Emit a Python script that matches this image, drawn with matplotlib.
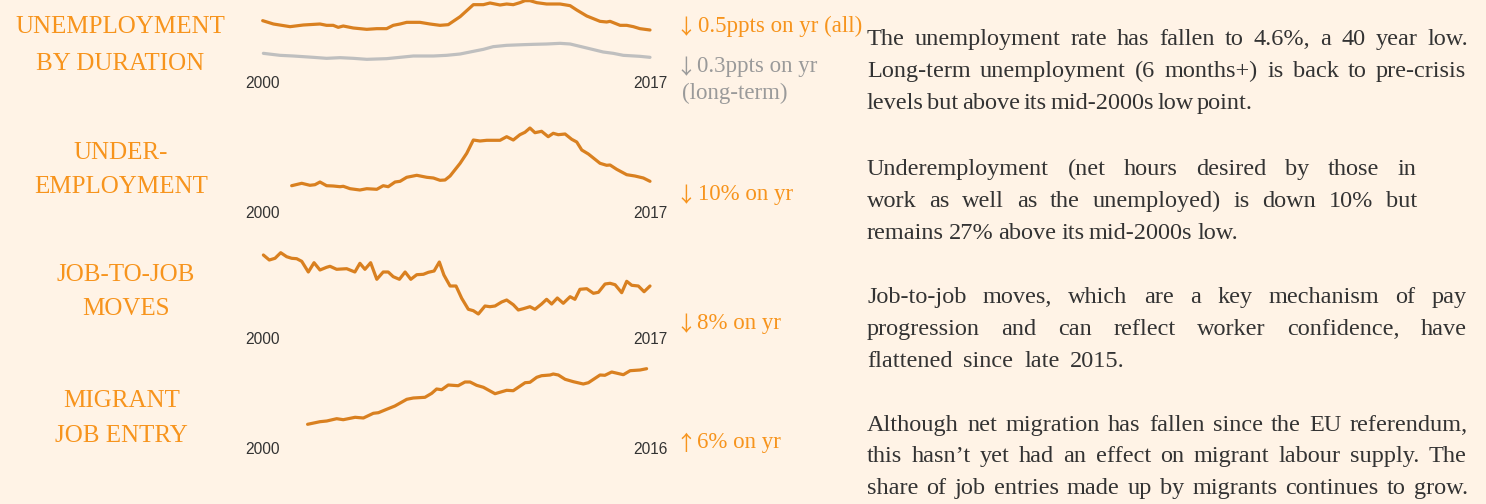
import matplotlib
matplotlib.use("Agg")
import matplotlib.pyplot as plt

W, H = 1486, 504
BG = "#fff3e6"
ORANGE_TXT = "#f7941d"
ORANGE_LINE = "#d98020"
GREY_LINE = "#bfbfbf"
GREY_TXT = "#9a9a9a"
INK = "#333333"
SERIF = ["Liberation Serif", "DejaVu Serif"]
ARROW_FONT = ["Noto Sans CJK SC", "DejaVu Sans"]

# --- data (no y scale shown, units are rough) ---
unemp_years = [2000.03, 2000.50, 2001.23, 2001.81, 2002.54, 2002.83, 2003.12, 2003.34,
               2003.56, 2004.00, 2004.59, 2005.03, 2005.46, 2005.75, 2006.05, 2006.34,
               2006.92, 2007.36, 2007.80, 2008.16, 2008.68, 2009.26, 2009.70, 2009.99,
               2010.43, 2010.72, 2011.01, 2011.30, 2011.52, 2011.74, 2012.04, 2012.47,
               2013.06, 2013.50, 2013.79, 2014.23, 2014.81, 2015.10, 2015.25, 2015.69,
               2015.98, 2016.27, 2016.56, 2017.00]
unemp_all = [5.42, 5.02, 4.70, 4.90, 5.02, 4.86, 4.86, 4.62, 4.78, 4.54, 4.38, 4.46,
             4.46, 4.86, 5.02, 5.22, 5.22, 5.02, 4.86, 4.94, 5.90, 7.34, 7.34, 7.54,
             7.30, 7.42, 7.34, 7.58, 7.82, 7.82, 7.58, 7.42, 7.42, 7.22, 6.70, 5.98,
             5.34, 5.26, 5.34, 4.86, 4.86, 4.70, 4.46, 4.30]

long_years = [2000.06, 2000.79, 2001.37, 2002.25, 2002.83, 2003.42, 2004.00, 2004.59,
              2005.46, 2005.75, 2006.63, 2007.51, 2008.09, 2008.68, 2009.26, 2009.70,
              2010.13, 2010.72, 2011.45, 2011.89, 2012.47, 2013.06, 2013.50, 2014.23,
              2014.95, 2015.39, 2015.83, 2016.56, 2017.00]
unemp_long = [1.50, 1.26, 1.18, 1.02, 0.90, 0.98, 0.90, 0.78, 0.86, 0.94, 1.18, 1.18,
              1.26, 1.42, 1.74, 1.98, 2.30, 2.46, 2.54, 2.58, 2.62, 2.70, 2.62, 2.14,
              1.66, 1.50, 1.26, 1.14, 1.02]

under_years = [2001.30, 2001.74, 2002.10, 2002.32, 2002.54, 2002.83, 2003.12, 2003.42,
               2003.56, 2003.86, 2004.29, 2004.59, 2005.03, 2005.31, 2005.53, 2005.83,
               2006.05, 2006.34, 2006.78, 2007.22, 2007.51, 2007.80, 2008.02, 2008.24,
               2008.68, 2008.97, 2009.26, 2009.55, 2009.85, 2010.43, 2010.72, 2011.01,
               2011.30, 2011.52, 2011.74, 2011.96, 2012.25, 2012.54, 2012.76, 2012.98,
               2013.28, 2013.57, 2013.79, 2014.01, 2014.30, 2014.81, 2015.10, 2015.25,
               2015.54, 2015.98, 2016.34, 2016.71, 2017.00]
under_idx = [14.3, 16.7, 14.7, 15.3, 18.0, 14.3, 14.0, 13.3, 13.7, 11.3, 10.0, 11.3,
             10.7, 14.3, 13.3, 18.0, 18.7, 22.7, 24.7, 22.7, 22.0, 19.7, 20.0, 24.0,
             36.7, 46.7, 60.0, 59.0, 59.7, 59.7, 63.3, 60.0, 65.3, 67.7, 72.0, 67.3,
             68.7, 63.3, 66.7, 65.3, 66.0, 60.7, 58.0, 50.0, 46.0, 36.7, 34.7, 35.0,
             30.7, 25.3, 24.0, 22.0, 18.7]

j2j_years = [2000.06, 2000.32, 2000.57, 2000.82, 2001.08, 2001.30, 2001.52, 2001.74,
             2002.03, 2002.28, 2002.54, 2002.83, 2002.98, 2003.27, 2003.71, 2004.07,
             2004.29, 2004.51, 2004.76, 2005.03, 2005.31, 2005.53, 2005.75, 2006.02,
             2006.27, 2006.52, 2006.78, 2007.07, 2007.29, 2007.54, 2007.77, 2007.97,
             2008.24, 2008.50, 2008.75, 2009.04, 2009.26, 2009.48, 2009.77, 2009.99,
             2010.21, 2010.50, 2010.72, 2011.01, 2011.23, 2011.45, 2011.74, 2011.96,
             2012.25, 2012.47, 2012.69, 2012.94, 2013.20, 2013.50, 2013.71, 2013.93,
             2014.23, 2014.52, 2014.74, 2015.03, 2015.25, 2015.47, 2015.76, 2015.98,
             2016.20, 2016.49, 2016.74, 2017.00]
j2j_idx = [75.0, 70.0, 71.7, 77.3, 73.3, 71.7, 71.3, 68.7, 58.0, 67.3, 60.0, 62.7,
           63.7, 60.7, 61.3, 58.0, 66.7, 60.7, 67.3, 50.7, 58.0, 58.0, 53.3, 50.7,
           58.0, 50.7, 55.3, 55.7, 57.7, 59.0, 68.0, 55.0, 44.0, 44.0, 31.7, 20.7,
           19.3, 16.0, 24.0, 23.3, 24.0, 28.0, 30.0, 25.3, 20.0, 21.3, 23.3, 20.7,
           26.0, 30.7, 26.0, 32.0, 26.7, 33.3, 30.7, 40.7, 41.3, 36.7, 37.7, 46.0,
           46.7, 45.3, 37.3, 48.7, 44.7, 44.0, 38.3, 44.0]

mig_years = [2001.88, 2002.39, 2002.67, 2003.08, 2003.35, 2003.84, 2004.18, 2004.59,
             2004.80, 2005.14, 2005.48, 2005.97, 2006.24, 2006.72, 2007.00, 2007.20,
             2007.41, 2007.68, 2008.09, 2008.37, 2008.58, 2008.85, 2009.13, 2009.61,
             2010.09, 2010.36, 2010.85, 2011.05, 2011.33, 2011.53, 2011.88, 2012.01,
             2012.22, 2012.50, 2012.84, 2013.25, 2013.46, 2013.94, 2014.14, 2014.42,
             2014.90, 2015.18, 2015.59, 2015.86]
mig_idx = [15.7, 18.3, 19.0, 21.3, 20.3, 22.7, 22.0, 26.7, 27.3, 30.7, 34.0, 40.7,
           42.0, 42.7, 46.7, 51.0, 50.3, 55.0, 54.3, 58.0, 58.0, 54.7, 52.7, 46.3,
           49.7, 49.3, 57.3, 57.7, 62.7, 64.3, 65.0, 66.0, 65.0, 60.7, 58.3, 56.0,
           57.3, 65.0, 64.7, 68.0, 65.3, 69.3, 70.0, 71.3]

titles = [["UNEMPLOYMENT", "BY DURATION"], ["UNDER-", "EMPLOYMENT"],
          ["JOB-TO-JOB", "MOVES"], ["MIGRANT", "JOB ENTRY"]]

# (arrow, text, colour)
notes = [("\u2193", "0.5ppts on yr (all)", ORANGE_TXT),
         ("\u2193", "0.3ppts on yr", GREY_TXT),
         ("", "(long-term)", GREY_TXT),
         ("\u2193", "10% on yr", ORANGE_TXT),
         ("\u2193", "8% on yr", ORANGE_TXT),
         ("\u2191", "6% on yr", ORANGE_TXT)]

paragraphs = [
    ["The unemployment rate has fallen to 4.6%, a 40 year low.",
     "Long-term unemployment (6 months+) is back to pre-crisis",
     "levels but above its mid-2000s low point."],
    ["Underemployment (net hours desired by those in",
     "work as well as the unemployed) is down 10% but",
     "remains 27% above its mid-2000s low."],
    ["Job-to-job moves, which are a key mechanism of pay",
     "progression and can reflect worker confidence, have",
     "flattened since late 2015."],
    ["Although net migration has fallen since the EU referendum,",
     "this hasn\u2019t yet had an effect on migrant labour supply. The",
     "share of job entries made up by migrants continues to grow."],
]
para_right = [[1468, 1466, 1203], [1416, 1417, 1238], [1467, 1467, 1125], [1468, 1466, 1468]]
para_base = [[45, 77, 109], [175, 207, 239], [303, 335, 367], [431, 462, 494]]


fig = plt.figure(figsize=(W / 100, H / 100), dpi=100, facecolor=BG)

# full-figure layer in pixel units for the text layout
tax = fig.add_axes([0, 0, 1, 1])
tax.set_xlim(0, W)
tax.set_ylim(H, 0)
tax.axis("off")


def px_axes(x0, y0, x1, y1):
    return fig.add_axes([x0 / W, 1 - y1 / H, (x1 - x0) / W, (y1 - y0) / H])


def spark(box, xlim, ylim, pad_px):
    ax = px_axes(*box)
    ax.set_facecolor("none")
    ax.set_xlim(*xlim)
    ax.set_ylim(*ylim)
    for s in ax.spines.values():
        s.set_visible(False)
    ax.set_yticks([])
    ax.set_xticks(list(xlim))
    ax.set_xticklabels([str(v) for v in xlim], family="Liberation Sans")
    ax.tick_params(axis="x", length=0, pad=pad_px * 0.72, labelsize=11.2, labelcolor=INK)
    return ax


line_kw = dict(lw=2.3, solid_capstyle="round", solid_joinstyle="round", clip_on=False)

ax1 = spark((262, 0, 650, 66), (2000, 2017), (-0.02, 7.9), 10)
ax1.plot(long_years, unemp_long, color=GREY_LINE, **line_kw)
ax1.plot(unemp_years, unemp_all, color=ORANGE_LINE, **line_kw)

ax2 = spark((262, 125, 650, 200), (2000, 2017), (0, 75), 6)
ax2.plot(under_years, under_idx, color=ORANGE_LINE, **line_kw)

ax3 = spark((262, 250, 650, 325), (2000, 2017), (5, 80), 7)
ax3.plot(j2j_years, j2j_idx, color=ORANGE_LINE, **line_kw)

ax4 = spark((262, 362, 650, 435), (2000, 2016), (5, 78), 7)
ax4.plot(mig_years, mig_idx, color=ORANGE_LINE, **line_kw)

# left-hand titles
title_x = [120, 121, 126, 121.5]
title_base = [[33, 70], [159, 193], [281, 315], [407, 442]]
for lines, x, bases in zip(titles, title_x, title_base):
    for txt, yb in zip(lines, bases):
        tax.text(x, yb, txt, ha="center", va="baseline", fontsize=18,
                 family=SERIF, color=ORANGE_TXT)

# change annotations
note_text_x = [698, 697, 682, 698, 697, 697]
note_base = [32, 72, 99, 200, 329, 448]
for (arrow, txt, col), xt, yb in zip(notes, note_text_x, note_base):
    if arrow:
        tax.text(685.5, yb + 2, arrow, ha="center", va="baseline", fontsize=15,
                 family=ARROW_FONT, color=col)
    tax.text(xt, yb, txt, ha="left", va="baseline", fontsize=16.5, family=SERIF, color=col)

# commentary, each line spread to the width it has in the original
renderer = fig.canvas.get_renderer()
body_kw = dict(fontsize=17.5, family=SERIF, color=INK, va="baseline", ha="left")


def spread_line(x0, x1, yb, line, min_gap=3.5):
    words = line.split(" ")
    widths = []
    for w in words:
        t = tax.text(0, 0, w, **body_kw)
        widths.append(t.get_window_extent(renderer).width)
        t.remove()
    gap = (x1 - x0 - sum(widths)) / max(len(words) - 1, 1)
    gap = max(gap, min_gap)
    x = x0
    for w, wd in zip(words, widths):
        tax.text(x, yb, w, **body_kw)
        x += wd + gap


for lines, rights, bases in zip(paragraphs, para_right, para_base):
    for line, xr, yb in zip(lines, rights, bases):
        spread_line(867, xr, yb, line)

fig.savefig("out.png", dpi=100, facecolor=BG)
